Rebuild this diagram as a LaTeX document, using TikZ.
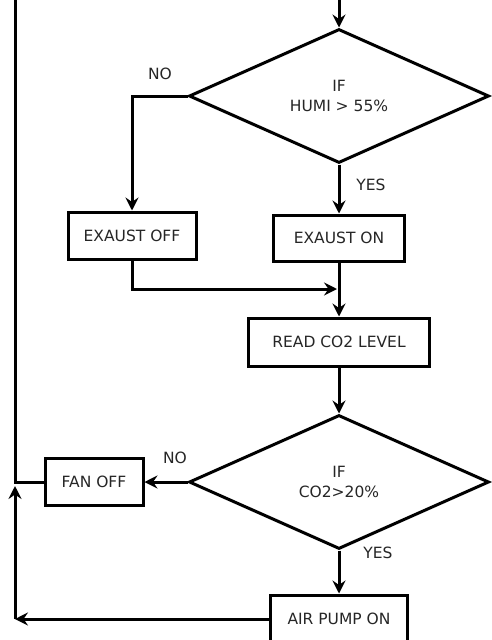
\documentclass[tikz,border=0pt]{standalone}
\usepackage{fontspec}
\setmainfont{DejaVu Sans}
\usetikzlibrary{shapes.geometric,arrows.meta}
\begin{document}
\begin{tikzpicture}[x=1pt,y=-1pt,line width=3pt,
  >={Stealth[length=13pt,width=13pt,inset=4.5pt]},
  txt/.style={font=\fontsize{15.5}{20}\selectfont,text=black!85},
  stepbox/.style={draw,rectangle,inner sep=0pt,txt},
  decision/.style={draw,diamond,inner sep=0pt,align=center,txt,minimum width=300pt,minimum height=134pt},
  lbl/.style={txt,inner sep=0pt}]
\useasboundingbox (0,0) rectangle (491,640);
\fill[white] (0,0) rectangle (491,640);
% nodes
\node[decision] (d1) at (339,96) {IF\\HUMI > 55\%};
\node[stepbox,minimum width=128pt,minimum height=47pt] (off) at (132,235.5) {EXAUST OFF};
\node[stepbox,minimum width=131pt,minimum height=46pt] (on) at (339,238) {EXAUST ON};
\node[stepbox,minimum width=181pt,minimum height=48pt] (read) at (339,342) {READ CO2 LEVEL};
\node[decision] (d2) at (339,482) {IF\\CO2>20\%};
\node[stepbox,minimum width=98pt,minimum height=47pt] (fan) at (94,482) {FAN OFF};
\node[stepbox,minimum width=137pt,minimum height=48pt] (pump) at (339,619) {AIR PUMP ON};
% labels
\node[lbl] (no1) at (160,74) {NO};
\node[lbl] (yes1) at (371,185) {YES};
\node[lbl] (no2) at (175,458) {NO};
\node[lbl] (yes2) at (378,553) {YES};
% coordinates
\coordinate (top) at (339,0);
\coordinate (tl) at (15,0);
\coordinate (merge) at (337,289);
\coordinate (bl) at (15,619);
\coordinate (ret) at (15,486);
% connectors
\draw[->] (top) -- (d1.north);
\draw[->] (d1.west) -| (off.north);
\draw[->] (d1.south) -- (on.north);
\draw[->] (off.south) |- (merge);
\draw[->] (on.south) -- (read.north);
\draw[->] (read.south) -- (d2.north);
\draw[->] (d2.west) -- (fan.east);
\draw[->] (d2.south) -- (pump.north);
\draw (fan.west) -- (fan.west -| tl) -- (tl);
\draw[->] (pump.west) -- (bl);
\draw[->] (bl) -- (ret);
\end{tikzpicture}
\end{document}
